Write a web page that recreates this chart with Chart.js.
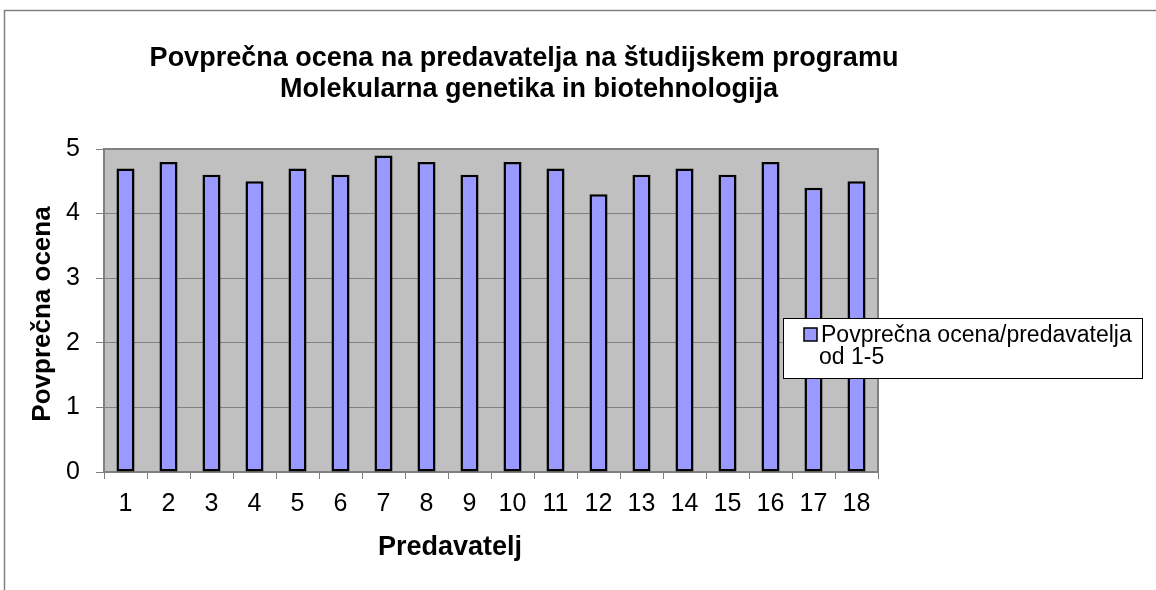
<!DOCTYPE html>
<html>
<head>
<meta charset="utf-8">
<script src="https://cdn.jsdelivr.net/npm/chart.js@4.4.1/dist/chart.umd.min.js"></script>
<style>
  body { margin: 0; background: #fff; }
  #wrap { width: 1156px; height: 590px; }
</style>
</head>
<body>
<div id="wrap"><canvas id="ocenaChart" width="1156" height="590"></canvas></div>
<script>
// --- PODATKI ---
const predavatelji = ['1', '2', '3', '4', '5', '6', '7', '8', '9', '10', '11', '12', '13', '14', '15', '16', '17', '18'];
const ocene = [4.7, 4.8, 4.6, 4.5, 4.7, 4.6, 4.9, 4.8, 4.6, 4.8, 4.7, 4.3, 4.6, 4.7, 4.6, 4.8, 4.4, 4.5];
const naslov = ['Povprečna ocena na predavatelja na študijskem programu', 'Molekularna genetika in biotehnologija'];
const legendaTekst = ['Povprečna ocena/predavatelja', 'od 1-5'];
const osY = 'Povprečna ocena';
const osX = 'Predavatelj';

const FONT = '"Liberation Sans", Arial, sans-serif';
const barva = '#9999ff';
const siva = '#808080';

// ozadje, okvir, naslovi in legenda
const okvirPlugin = {
    id: 'okvir',
    beforeDraw(chart) {
        const { ctx, chartArea: a } = chart;
        ctx.save();
        ctx.fillStyle = '#fff';
        ctx.fillRect(0, 0, chart.width, chart.height);
        ctx.fillStyle = '#c0c0c0';
        ctx.fillRect(a.left, a.top, a.right - a.left, a.bottom - a.top);
        // zunanji okvir
        ctx.strokeStyle = siva;
        ctx.lineWidth = 1.5;
        ctx.strokeRect(4.5, 10.5, chart.width + 10, chart.height + 10);
        ctx.restore();
    },
    beforeDatasetsDraw(chart) {
        const { ctx, chartArea: a } = chart;
        ctx.save();
        ctx.strokeStyle = siva;
        ctx.lineWidth = 2;
        ctx.beginPath();
        ctx.moveTo(a.left, a.top);
        ctx.lineTo(a.right, a.top);
        ctx.lineTo(a.right, a.bottom);
        ctx.stroke();
        ctx.restore();
    },
    afterDraw(chart) {
        const { ctx } = chart;
        ctx.save();
        ctx.fillStyle = '#000';
        ctx.textAlign = 'center';
        ctx.textBaseline = 'alphabetic';
        ctx.font = 'bold 27px ' + FONT;
        ctx.fillText(naslov[0], 524, 66);
        ctx.fillText(naslov[1], 529, 97);

        ctx.fillText(osX, 450, 555);

        ctx.font = 'bold 26px ' + FONT;
        ctx.save();
        ctx.translate(50, 314);
        ctx.rotate(-Math.PI / 2);
        ctx.fillText(osY, 0, 0);
        ctx.restore();

        // legenda
        ctx.fillStyle = '#fff';
        ctx.fillRect(783, 318, 359, 60);
        ctx.strokeStyle = '#000';
        ctx.lineWidth = 1;
        ctx.strokeRect(783.5, 318.5, 359, 60);
        ctx.fillStyle = barva;
        ctx.fillRect(804, 328, 13, 13);
        ctx.lineWidth = 1.5;
        ctx.strokeRect(804, 328, 13, 13);
        ctx.fillStyle = '#000';
        ctx.textAlign = 'left';
        ctx.font = '23px ' + FONT;
        ctx.fillText(legendaTekst[0], 821, 342);
        ctx.fillText(legendaTekst[1], 819, 364);
        ctx.restore();
    }
};

new Chart(document.getElementById('ocenaChart'), {
    type: 'bar',
    data: {
        labels: predavatelji,
        datasets: [{
            label: legendaTekst.join(' '),
            data: ocene,
            backgroundColor: barva,
            borderColor: '#000',
            borderWidth: 2.5,
            borderSkipped: false,
            barPercentage: 0.42,
            categoryPercentage: 1
        }]
    },
    options: {
        responsive: false,
        animation: false,
        devicePixelRatio: 1,
        layout: { padding: { top: 149, right: 278, bottom: 0, left: 0 } },
        plugins: {
            legend: { display: false },
            title: { display: false },
            tooltip: { enabled: false }
        },
        scales: {
            x: {
                offset: true,
                grid: { display: true, drawOnChartArea: false, color: siva, tickLength: 7, offset: true },
                border: { display: true, color: siva, width: 2 },
                ticks: { color: '#000', font: { family: FONT, size: 25 }, padding: 10, maxRotation: 0 },
                afterFit(scale) { scale.height = 118; }
            },
            y: {
                min: 0,
                max: 5,
                grid: { color: siva, lineWidth: 1, tickLength: 8 },
                border: { display: true, color: siva, width: 2 },
                ticks: { stepSize: 1, color: '#000', font: { family: FONT, size: 25 }, padding: 16 },
                afterFit(scale) { scale.width = 104; }
            }
        }
    },
    plugins: [okvirPlugin]
});
</script>
</body>
</html>
